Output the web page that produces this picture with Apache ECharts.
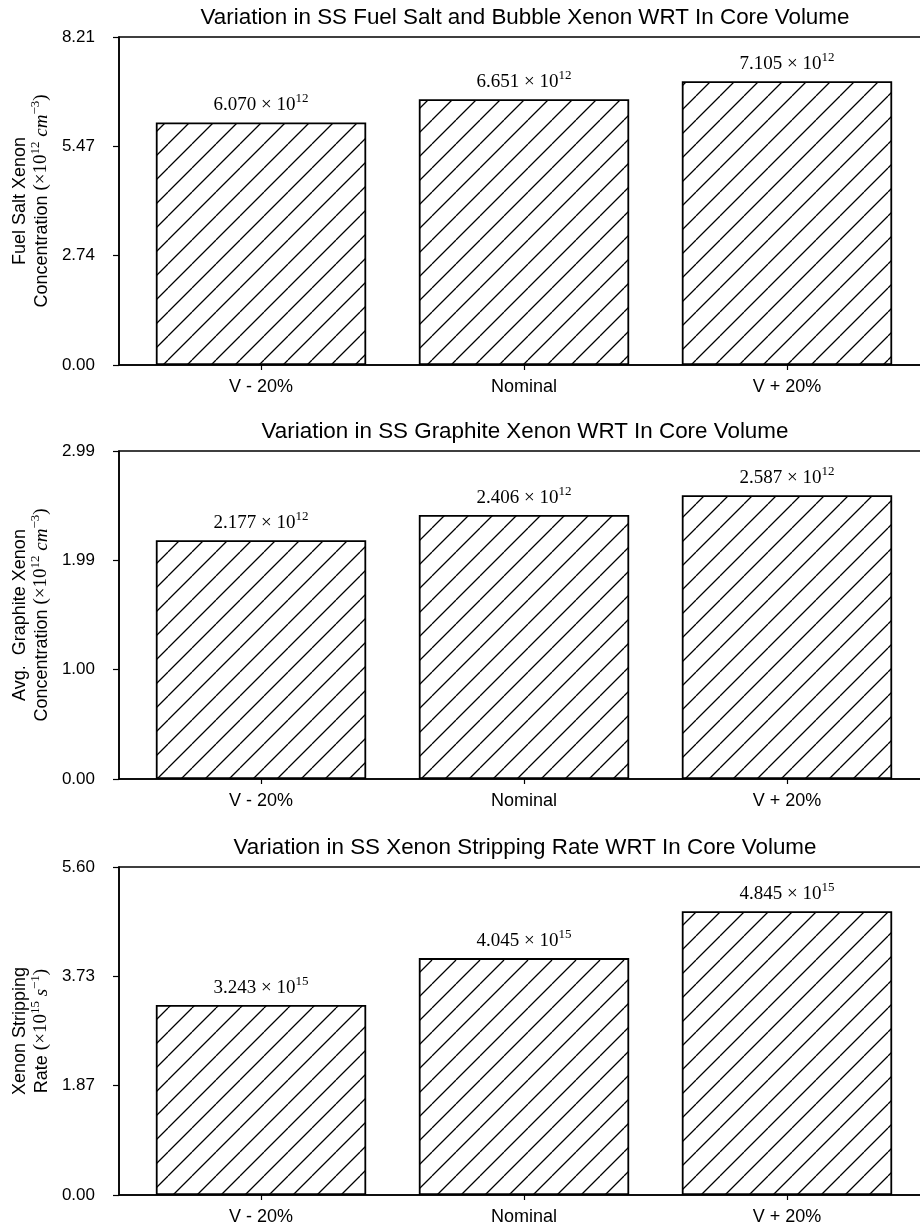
<!DOCTYPE html>
<html>
<head>
<meta charset="utf-8">
<script src="https://cdn.jsdelivr.net/npm/echarts@6/dist/echarts.min.js"></script>
<style>
  html, body { margin: 0; padding: 0; background: #fff; }
  #chart { width: 920px; height: 1230px; }
</style>
</head>
<body>
<div id="chart"></div>
<script>
// Categories and steady-state values for each panel
const categories = ['V - 20%', 'Nominal', 'V + 20%'];
const fuelSaltXenon = [6.070, 6.651, 7.105];      // x10^12 cm^-3
const graphiteXenon = [2.177, 2.406, 2.587];      // x10^12 cm^-3
const strippingRate = [3.243, 4.045, 4.845];      // x10^15 s^-1
const exponents = [12, 12, 15];

// Y tick labels for each panel
const yTicksFuel = [0.00, 2.74, 5.47, 8.21];
const yTicksGraphite = [0.00, 1.00, 1.99, 2.99];
const yTicksStripping = [0.00, 1.87, 3.73, 5.60];

const panelTitles = [
  'Variation in SS Fuel Salt and Bubble Xenon WRT In Core Volume',
  'Variation in SS Graphite Xenon WRT In Core Volume',
  'Variation in SS Xenon Stripping Rate WRT In Core Volume'
];
const yNames = [
  ['Fuel Salt Xenon', 'Concentration ', '12', 'cm', '\u22123'],
  ['Avg.  Graphite Xenon', 'Concentration ', '12', 'cm', '\u22123'],
  ['Xenon Stripping', 'Rate ', '15', 's', '\u22121']
];

const SANS = '"Liberation Sans", Arial, sans-serif';
const SERIF = '"Liberation Serif", "DejaVu Serif", serif';

// Diagonal "/" hatch tile used as the bar fill
function hatchTile() {
  const s = 24;
  const c = document.createElement('canvas');
  c.width = s; c.height = s;
  const g = c.getContext('2d');
  g.fillStyle = '#fff';
  g.fillRect(0, 0, s, s);
  g.strokeStyle = '#000';
  g.lineWidth = 1.3;
  g.beginPath();
  for (const off of [-s, 0, s]) {
    g.moveTo(off, s);
    g.lineTo(off + s, 0);
  }
  g.stroke();
  return c;
}
const hatch = hatchTile();

const panels = [
  { values: fuelSaltXenon, ticks: yTicksFuel },
  { values: graphiteXenon, ticks: yTicksGraphite },
  { values: strippingRate, ticks: yTicksStripping }
];

const gridTops = [37, 451, 867];
const gridHeight = 328;
const gridLeft = 119;
const gridWidth = 810;
const axisCenter = gridLeft + gridWidth / 2;

const grids = [], xAxes = [], yAxes = [], series = [], titles = [];

panels.forEach((p, i) => {
  grids.push({
    left: gridLeft, top: gridTops[i], width: gridWidth, height: gridHeight,
    outerBoundsMode: 'none', containLabel: false,
    show: true, borderColor: '#000', borderWidth: 1.5, backgroundColor: 'transparent'
  });
  titles.push({
    text: panelTitles[i],
    left: axisCenter - 4, top: gridTops[i] - 35, textAlign: 'center',
    textStyle: { fontFamily: SANS, fontSize: 22.4, fontWeight: 'normal', color: '#000' }
  });
  const catIdx = categories.map((_, k) => k);
  xAxes.push({
    type: 'value', gridIndex: i, min: -0.54, max: 2.54,
    splitLine: { show: false },
    axisLine: { show: true, onZero: false, lineStyle: { color: '#000', width: 1.5 } },
    axisTick: { show: true, customValues: catIdx, length: 5, lineStyle: { color: '#000', width: 1.2 } },
    axisLabel: {
      customValues: catIdx, margin: 13, color: '#000',
      fontFamily: SANS, fontSize: 18,
      formatter: v => categories[Math.round(v)]
    }
  });
  const n = yNames[i];
  yAxes.push({
    type: 'value', gridIndex: i, min: 0, max: p.ticks[p.ticks.length - 1],
    splitLine: { show: false },
    axisLine: { show: true, onZero: false, lineStyle: { color: '#000', width: 1.5 } },
    axisTick: { show: true, customValues: p.ticks, length: 6, lineStyle: { color: '#000', width: 1.2 } },
    axisLabel: {
      customValues: p.ticks, margin: 24, color: '#000',
      fontFamily: SANS, fontSize: 17,
      formatter: v => v.toFixed(2)
    },
    name: '{t|' + n[0] + '}\n{t|' + n[1] + '}{m|(\u00d710}{sup|' + n[2] + '}{mi| ' + n[3] + '}{sup|' + n[4] + '}{m|)}',
    nameLocation: 'middle', nameRotate: 90, nameGap: 67,
    nameTextStyle: {
      color: '#000',
      rich: {
        t: { fontFamily: SANS, fontSize: 18, lineHeight: 22, verticalAlign: 'bottom' },
        m: { fontFamily: SERIF, fontSize: 19, lineHeight: 22, verticalAlign: 'bottom' },
        mi: { fontFamily: SERIF, fontStyle: 'italic', fontSize: 19, lineHeight: 22, verticalAlign: 'bottom' },
        sup: { fontFamily: SERIF, fontSize: 13, lineHeight: 12, verticalAlign: 'top' }
      }
    }
  });
  series.push({
    type: 'bar', xAxisIndex: i, yAxisIndex: i,
    data: p.values.map((v, k) => [k, v]),
    barWidth: '80%',
    itemStyle: { color: { image: hatch, repeat: 'repeat' }, borderColor: '#000', borderWidth: 1.8 },
    label: {
      show: true, position: 'top', distance: 8,
      formatter: prm => '{b|' + prm.value[1].toFixed(3) + ' \u00d7 10}{s|' + exponents[i] + '}',
      rich: {
        b: { fontFamily: SERIF, fontSize: 19, lineHeight: 22, verticalAlign: 'bottom', color: '#000' },
        s: { fontFamily: SERIF, fontSize: 13, lineHeight: 12, verticalAlign: 'top', color: '#000' }
      }
    },
    emphasis: { disabled: true },
    animation: false
  });
});

const chart = echarts.init(document.getElementById('chart'), null, { renderer: 'canvas' });
chart.setOption({
  animation: false,
  backgroundColor: '#fff',
  title: titles,
  grid: grids,
  xAxis: xAxes,
  yAxis: yAxes,
  series: series
});
</script>
</body>
</html>
